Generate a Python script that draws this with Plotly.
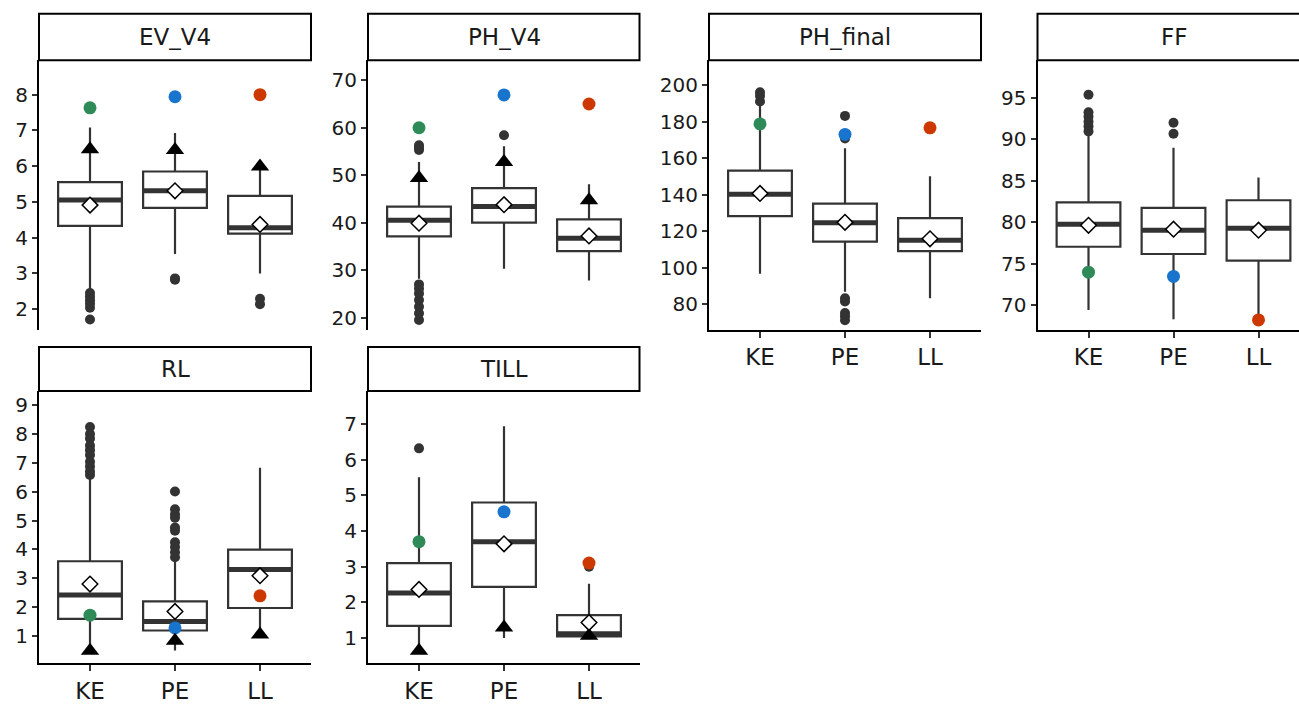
import plotly.graph_objects as go

# ---------------- data ----------------
groups = ["KE", "PE", "LL"]
traits = ["EV_V4", "PH_V4", "PH_final", "FF", "RL", "TILL"]

q1_vals = [
    [4.33, 4.83, 4.11],
    [37.1, 40.0, 34.0],
    [128.3, 114.4, 109.2],
    [77.06, 76.19, 75.40],
    [1.59, 1.19, 1.97],
    [1.34, 2.43, 1.04],
]
median_vals = [
    [5.05, 5.31, 4.28],
    [40.5, 43.4, 36.7],
    [140.2, 124.7, 115.1],
    [79.76, 79.05, 79.29],
    [2.42, 1.50, 3.30],
    [2.26, 3.70, 1.12],
]
q3_vals = [
    [5.55, 5.85, 5.17],
    [43.4, 47.3, 40.7],
    [153.2, 135.1, 127.2],
    [82.40, 81.75, 82.66],
    [3.59, 2.20, 3.99],
    [3.10, 4.80, 1.64],
]
lower_whisker = [
    [2.57, 3.54, 3.00],
    [28.2, 30.3, 27.8],
    [96.8, 87.0, 83.4],
    [69.44, 68.33, 68.45],
    [0.50, 0.50, 1.00],
    [0.60, 1.00, 1.00],
]
upper_whisker = [
    [7.08, 6.93, 5.90],
    [52.8, 56.1, 48.1],
    [190.6, 165.4, 150.1],
    [90.50, 88.97, 85.40],
    [6.50, 3.60, 6.83],
    [5.51, 6.94, 2.52],
]
mean_vals = [
    [4.91, 5.31, 4.37],
    [39.9, 43.8, 37.2],
    [140.7, 124.9, 115.9],
    [79.64, 79.17, 79.05],
    [2.80, 1.85, 3.09],
    [2.36, 3.64, 1.43],
]
highlight_vals = [
    [7.63, 7.94, 8.00],
    [60.0, 66.9, 65.0],
    [178.7, 173.0, 176.6],
    [74.0, 73.49, 68.25],
    [1.72, 1.28, 2.39],
    [3.70, 4.54, 3.10],
]
triangle_vals = [
    [6.47, 6.45, 5.99],
    [49.4, 52.8, 44.7],
    None,
    None,
    [0.49, 0.83, 1.05],
    [0.64, 1.29, 1.06],
]
outlier_vals = [
    [[1.71, 2.04, 2.15, 2.25, 2.35, 2.45], [2.82, 2.86], [2.14, 2.29]],
    [[55.3, 55.8, 56.3, 19.5, 20.9, 22.3, 23.7, 25.1, 26.1, 27.0], [58.4], []],
    [[191.0, 194.0, 196.0], [183.1, 170.8, 172.3, 83.4, 81.6, 75.3, 73.5, 71.4], []],
    [[90.95, 91.55, 92.1, 92.7, 93.25, 95.36], [90.67, 91.98], []],
    [[8.24, 8.0, 7.84, 7.6, 7.44, 7.27, 7.04, 6.87, 6.7, 6.58],
     [6.01, 5.39, 5.22, 5.1, 4.76, 4.65, 4.25, 4.08, 3.9, 3.73], []],
    [[6.32], [], [3.0]],
]
y_ranges = [
    [1.43, 8.96],
    [17.5, 74.2],
    [66.3, 213.5],
    [67.1, 99.5],
    [0.05, 9.49],
    [0.285, 7.93],
]
y_ticks = [
    [2, 3, 4, 5, 6, 7, 8],
    [20, 30, 40, 50, 60, 70],
    [80, 100, 120, 140, 160, 180, 200],
    [70, 75, 80, 85, 90, 95],
    [1, 2, 3, 4, 5, 6, 7, 8, 9],
    [1, 2, 3, 4, 5, 6, 7],
]
highlight_colors = ["#2E8B57", "#1874CD", "#CD3700"]

# ---------------- layout geometry ----------------
W, H = 1299, 704
col_px = [(39, 311), (368, 639.5), (709, 981), (1037.5, 1299)]
row_plot_px = [(61, 333.3), (395.5, 671)]
row_strip_px = [(14, 61), (351, 395.5)]
panel_pos = [(0, 0), (0, 1), (0, 2), (0, 3), (1, 0), (1, 1)]
show_x = [False, False, True, True, True, True]
px_per_unit = 85.0
box_w = 0.75

FONT = "DejaVu Sans"
DARK = "#333333"
TXT = "#1a1a1a"

fig = go.Figure()
layout = dict(
    width=W, height=H,
    margin=dict(l=0, r=0, t=0, b=0),
    paper_bgcolor="white", plot_bgcolor="white",
    showlegend=False,
    font=dict(family=FONT, color=TXT),
    shapes=[], annotations=[],
)

pos = [1, 2, 3]
for i, trait in enumerate(traits):
    r, c = panel_pos[i]
    sfx = "" if i == 0 else str(i + 1)
    xa, ya = "x" + sfx, "y" + sfx
    x0p, x1p = col_px[c]
    y0p, y1p = row_plot_px[r]
    s0, s1 = row_strip_px[r]
    full_right = x0p + 3.2 * px_per_unit
    xr_end = 0.4 + (x1p - x0p) / px_per_unit
    layout["xaxis" + sfx] = dict(
        domain=[x0p / W, x1p / W], anchor=ya,
        range=[0.4, min(3.6, xr_end)],
        tickvals=pos, ticktext=groups,
        showticklabels=show_x[i],
        ticks="outside" if show_x[i] else "", ticklen=6, tickwidth=1.5, tickcolor=DARK,
        showline=show_x[i], linecolor="black", linewidth=2,
        showgrid=False, zeroline=False, fixedrange=True,
        tickfont=dict(family=FONT, size=23, color=TXT),
    )
    layout["yaxis" + sfx] = dict(
        domain=[1 - y1p / H, 1 - y0p / H], anchor=xa,
        range=y_ranges[i], tickvals=y_ticks[i],
        ticks="outside", ticklen=5, tickwidth=1.5, tickcolor=DARK,
        showline=True, linecolor="black", linewidth=2,
        showgrid=False, zeroline=False, fixedrange=True,
        tickfont=dict(family=FONT, size=20, color=TXT),
    )
    # strip
    layout["shapes"].append(dict(
        type="rect", xref="paper", yref="paper",
        x0=x0p / W, x1=(x1p / W if x1p < W else 1.02),
        y0=1 - s1 / H, y1=1 - s0 / H,
        line=dict(color="black", width=2), fillcolor="white", layer="above",
    ))
    layout["annotations"].append(dict(
        text=trait, xref="paper", yref="paper",
        x=(x0p + max(x1p, full_right)) / 2 / W,
        y=1 - (s0 + s1) / 2 / H, showarrow=False,
        xanchor="center", yanchor="middle",
        font=dict(family=FONT, size=23, color=TXT),
    ))

    # boxes
    fig.add_trace(go.Box(
        x=pos, q1=q1_vals[i], median=median_vals[i], q3=q3_vals[i],
        lowerfence=lower_whisker[i], upperfence=upper_whisker[i],
        width=box_w, whiskerwidth=0, fillcolor="white",
        line=dict(color=DARK, width=2.2), boxpoints=False,
        xaxis=xa, yaxis=ya, hoverinfo="skip",
    ))
    # thick median
    for j, p in enumerate(pos):
        fig.add_trace(go.Scatter(
            x=[p - box_w / 2, p + box_w / 2], y=[median_vals[i][j]] * 2,
            mode="lines", line=dict(color=DARK, width=5),
            xaxis=xa, yaxis=ya, hoverinfo="skip",
        ))
    # outliers
    ox, oy = [], []
    for j, p in enumerate(pos):
        for v in outlier_vals[i][j]:
            ox.append(p)
            oy.append(v)
    if ox:
        fig.add_trace(go.Scatter(
            x=ox, y=oy, mode="markers",
            marker=dict(color=DARK, size=10, line=dict(width=0)),
            xaxis=xa, yaxis=ya,
        ))
    # highlight points
    fig.add_trace(go.Scatter(
        x=pos, y=highlight_vals[i], mode="markers",
        marker=dict(color=highlight_colors, size=13, line=dict(width=0)),
        xaxis=xa, yaxis=ya,
    ))
    # triangles
    if triangle_vals[i] is not None:
        fig.add_trace(go.Scatter(
            x=pos, y=triangle_vals[i], mode="markers",
            marker=dict(symbol="triangle-up", color="black", size=16, line=dict(width=0)),
            xaxis=xa, yaxis=ya,
        ))
    # mean diamonds
    fig.add_trace(go.Scatter(
        x=pos, y=mean_vals[i], mode="markers",
        marker=dict(symbol="diamond", color="white", size=12,
                    line=dict(color="black", width=1.5)),
        xaxis=xa, yaxis=ya,
    ))

fig.update_layout(**layout)
fig.write_html(
    "out.html",
    config={"displayModeBar": False},
    post_script="document.body.style.margin='0px';document.body.style.overflow='hidden';",
)
